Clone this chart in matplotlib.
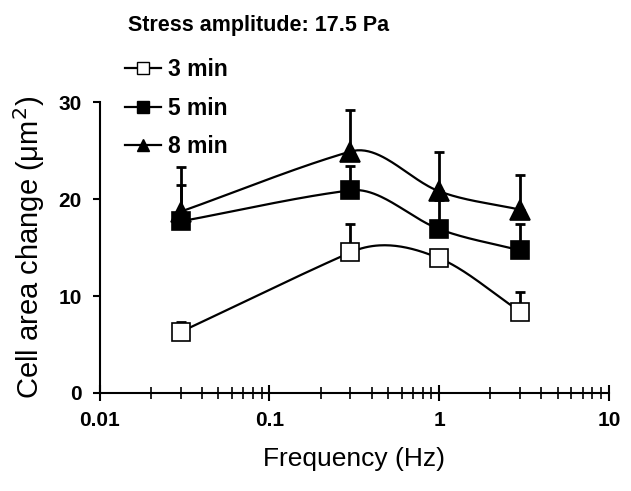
import numpy as np
import matplotlib
matplotlib.use("Agg")
import matplotlib.pyplot as plt
from matplotlib.lines import Line2D

freq = [0.03, 0.3, 1, 3]
series_labels = ["3 min", "5 min", "8 min"]
vals_3 = [6.3, 14.5, 13.9, 8.4]
err_3 = [1.0, 2.9, 0.8, 2.0]
vals_5 = [17.7, 20.9, 16.9, 14.7]
err_5 = [3.8, 2.5, 3.0, 2.7]
vals_8 = [18.7, 24.9, 20.8, 18.9]
err_8 = [4.6, 4.3, 4.1, 3.6]

plt.rcParams['font.family'] = ['Liberation Sans', 'DejaVu Sans']

fig = plt.figure(figsize=(6.31, 4.91), dpi=100)
ax = fig.add_axes([0.158, 0.1996, 0.807, 0.5925])
ax.set_xscale('log')
ax.set_xlim(0.01, 10)
ax.set_ylim(0, 30)


def smooth(xs, ys, n=50):
    # Hermite smoothing computed in display space (spreadsheet-like smoothed line)
    trans = ax.transData
    P = trans.transform(np.column_stack([xs, ys]))
    dx = np.diff(P[:, 0])
    dy = np.diff(P[:, 1])
    s = dy / dx
    w = (dx ** 2 + dy ** 2) ** 2
    m = np.empty(len(P))
    m[0] = s[0]
    m[-1] = s[-1]
    for i in range(1, len(P) - 1):
        m[i] = (w[i - 1] * s[i - 1] + w[i] * s[i]) / (w[i - 1] + w[i])
    X, Y = [], []
    for i in range(len(P) - 1):
        t = np.linspace(0, 1, n)
        h = dx[i]
        h00 = 2 * t ** 3 - 3 * t ** 2 + 1
        h10 = t ** 3 - 2 * t ** 2 + t
        h01 = -2 * t ** 3 + 3 * t ** 2
        h11 = t ** 3 - t ** 2
        X.append(P[i, 0] + t * h)
        Y.append(h00 * P[i, 1] + h10 * h * m[i] + h01 * P[i + 1, 1] + h11 * h * m[i + 1])
    out = np.column_stack([np.concatenate(X), np.concatenate(Y)])
    d = trans.inverted().transform(out)
    return d[:, 0], d[:, 1]

styles = [
    (vals_3, err_3, 's', 'white'),
    (vals_5, err_5, 's', 'black'),
    (vals_8, err_8, '^', 'black'),
]
handles = []
for (v, e, m, fc), lab in zip(styles, series_labels):
    sx, sy = smooth(freq, v)
    ax.plot(sx, sy, color='black', lw=1.6, zorder=2)
    ax.errorbar(freq, v, yerr=[np.zeros(len(e)), e], fmt='none', ecolor='black',
                elinewidth=2, capsize=3.5, capthick=2, zorder=1)
    ax.plot(freq, v, linestyle='none', marker=m, markersize=13 if m == 's' else 14,
            markerfacecolor=fc, markeredgecolor='black', markeredgewidth=1.2, zorder=3)
    handles.append(Line2D([0], [0], color='black', lw=1.6, marker=m, markersize=8,
                          markerfacecolor=fc, markeredgecolor='black'))

ax.set_yticks([0, 10, 20, 30])
ax.set_xticks([0.01, 0.1, 1, 10])
ax.set_xticklabels(['0.01', '0.1', '1', '10'])
ax.spines['top'].set_visible(False)
ax.spines['right'].set_visible(False)
for s in ['left', 'bottom']:
    ax.spines[s].set_linewidth(1.5)
ax.tick_params(axis='x', which='major', direction='inout', length=12, width=1.5, pad=7)
ax.tick_params(axis='x', which='minor', direction='inout', length=8, width=1.2)
ax.tick_params(axis='y', which='major', direction='out', length=5, width=1.5, pad=8)
for lbl in ax.get_xticklabels() + ax.get_yticklabels():
    lbl.set_fontweight('bold')
    lbl.set_fontsize(15)

ax.set_xlabel('Frequency (Hz)', fontsize=19, labelpad=12)
ax.set_ylabel('Cell area change (μm$^2$)', fontsize=21, labelpad=8)

fig.text(0.203, 0.948, 'Stress amplitude: 17.5 Pa', fontsize=15.5, fontweight='bold',
         ha='left', va='center')

fig.legend(handles, series_labels, loc='upper left', bbox_to_anchor=(0.183, 0.9),
           frameon=False, handlelength=1.6, handletextpad=0.3, labelspacing=0.68,
           borderaxespad=0, prop={'weight': 'bold', 'size': 16.5})

fig.savefig('out.png', dpi=100)
